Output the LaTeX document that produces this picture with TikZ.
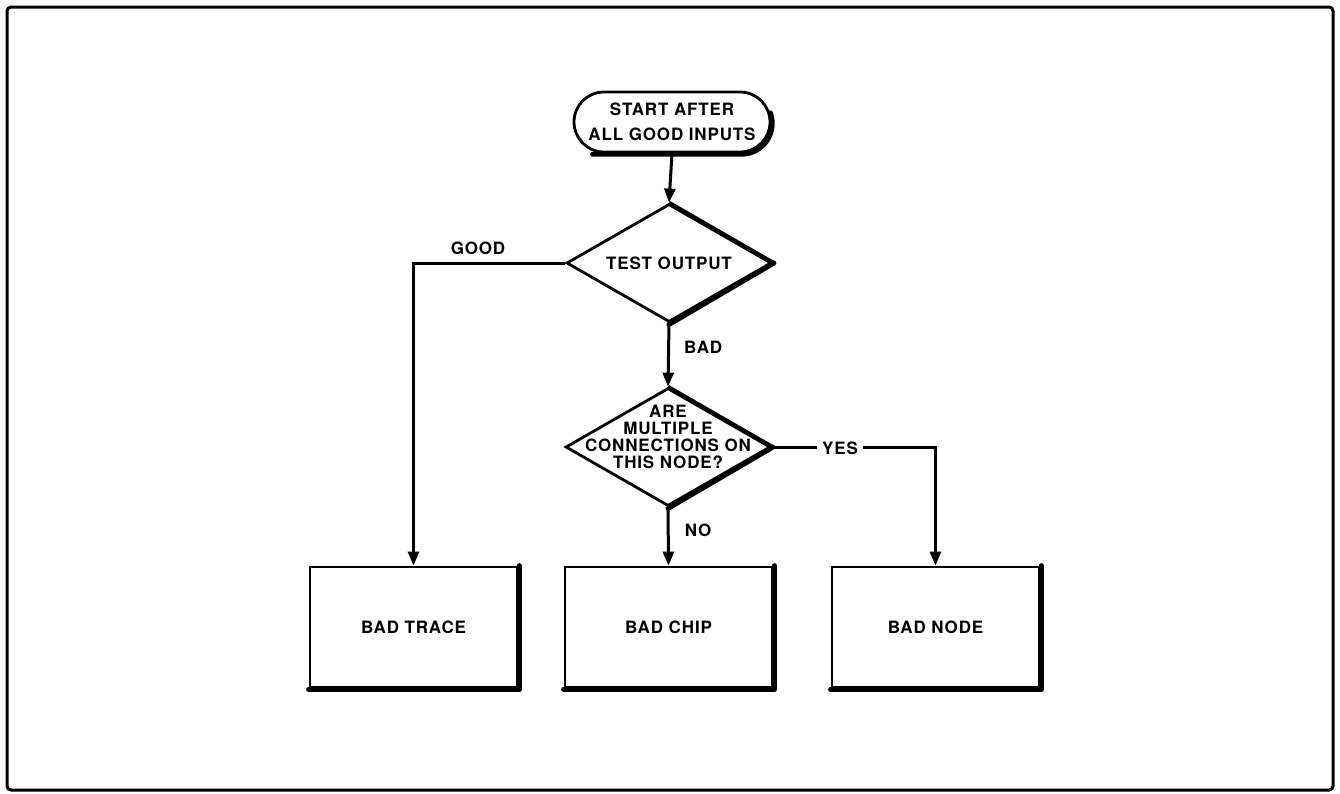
\documentclass[tikz,border=0pt]{standalone}
\usepackage{fontspec}
\setmainfont{TeX Gyre Heros}[LetterSpace=5]
\usetikzlibrary{shapes.geometric,arrows.meta}
\begin{document}
\begin{tikzpicture}[x=1pt,y=-1pt,
  fc/.style={font=\bfseries\fontsize{17}{17}\selectfont, align=center, inner sep=1pt},
  term/.style={draw, line width=2.8pt, rounded corners=30pt, minimum width=196pt, minimum height=60pt, inner sep=0pt, align=center, font=\bfseries\fontsize{17}{25}\selectfont},
  box/.style={draw, line width=2.8pt, minimum width=207pt, minimum height=120pt, inner sep=0pt, fc},
  dec/.style={draw, diamond, line width=2.8pt, minimum width=205pt, minimum height=118pt, inner sep=0pt},
  heavy/.style={line width=5pt, line cap=round, line join=round},
  conn/.style={line width=3pt, -{Triangle[length=14pt,width=11pt]}},
  lbl/.style={fc, fill=white, inner xsep=5pt, inner ysep=2pt}]
\useasboundingbox (0,0) rectangle (1340,793);
\draw[line width=3pt, rounded corners=4pt] (7,7) rectangle (1333,790);

% shapes
\node[term] (start) at (672,122) {START AFTER\\ALL GOOD INPUTS};
\node[dec] (d1) at (669,263) {};
\node[fc] (t1) at (d1.center) {TEST OUTPUT};
\node[dec] (d2) at (668,447) {};
\node[fc] (t2) at (668,437) {ARE\\MULTIPLE\\CONNECTIONS ON\\THIS NODE?};
\node[box] (trace) at (413.5,627) {BAD TRACE};
\node[box] (chip) at (668.5,627) {BAD CHIP};
\node[box] (bnode) at (935.5,627) {BAD NODE};

% heavy shadow edges
\draw[heavy] ([xshift=20pt,yshift=-0.8pt]start.south west) -- ([xshift=-30pt,yshift=-0.8pt]start.south east)
   arc[start angle=-90, end angle=20, radius=30.8pt];
\draw[heavy] ([xshift=1pt]d1.east) -- ([yshift=-1pt]d1.south);
\draw[line width=3.8pt] (d1.north) -- ([xshift=1pt]d1.east);
\draw[heavy] ([xshift=1pt]d2.east) -- ([yshift=-1pt]d2.south);
\draw[line width=3.6pt] (d2.north) -- ([xshift=1pt]d2.east);
\foreach \b in {trace,chip,bnode}{
  \draw[heavy] ([yshift=-1pt]\b.south west) -- ([xshift=0.8pt,yshift=-1pt]\b.south east) -- ([xshift=0.8pt]\b.north east);
}

% connectors
\draw[conn] (start.south) -- (d1.north);
\draw[conn] (d1.west) -| (trace.north);
\draw[conn] (d1.south) -- (d2.north);
\draw[conn] (d2.south) -- (chip.north);
\draw[conn] (d2.east) -| (bnode.north);

% labels
\node[fc] (good) at (478,248) {GOOD};
\node[fc, anchor=west] (bad) at (683,347) {BAD};
\node[fc] (no) at (698,530) {NO};
\node[lbl] (yes) at (840,448) {YES};
\end{tikzpicture}
\end{document}
